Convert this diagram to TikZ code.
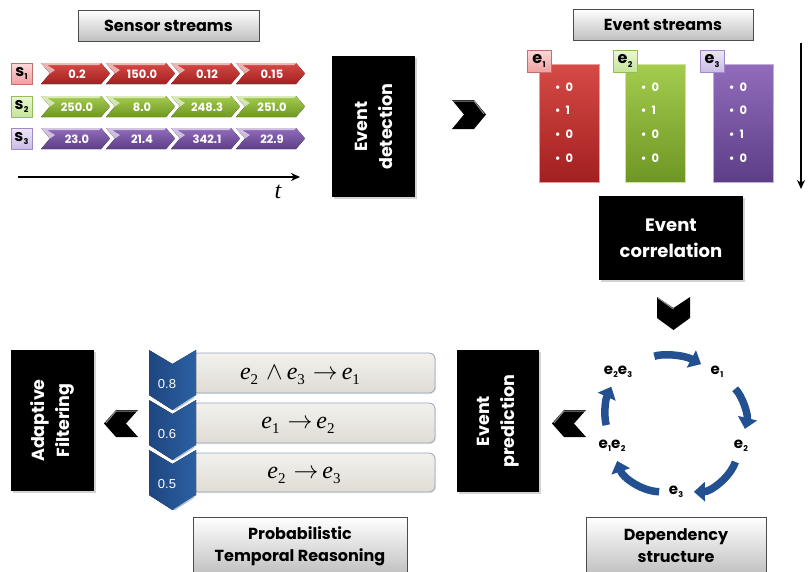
\documentclass[tikz,border=0pt]{standalone}
\usepackage{fontspec}
\setsansfont{Poppins}
\newfontfamily\serifit{Liberation Serif}
\newfontfamily\arialfont{Liberation Sans}
\usetikzlibrary{arrows.meta,shadows,calc}

% stream colours
\definecolor{redT}{RGB}{214,74,70}
\definecolor{redB}{RGB}{162,32,32}
\definecolor{grnT}{RGB}{164,204,78}
\definecolor{grnB}{RGB}{110,150,36}
\definecolor{purT}{RGB}{146,108,188}
\definecolor{purB}{RGB}{92,62,134}
% tag colours
\definecolor{redL}{RGB}{253,218,218}
\definecolor{redLB}{RGB}{240,160,160}
\definecolor{redE}{RGB}{196,110,110}
\definecolor{grnL}{RGB}{234,247,210}
\definecolor{grnLB}{RGB}{198,228,152}
\definecolor{grnE}{RGB}{148,188,90}
\definecolor{purL}{RGB}{238,230,248}
\definecolor{purLB}{RGB}{202,188,228}
\definecolor{purE}{RGB}{158,138,196}
% reasoning colours
\definecolor{cycblue}{RGB}{34,80,144}
\definecolor{chL}{RGB}{30,70,128}
\definecolor{chR}{RGB}{44,96,162}
\definecolor{ruleT}{RGB}{242,241,236}
\definecolor{ruleB}{RGB}{222,220,212}
\definecolor{ruleE}{RGB}{150,166,188}

% letter with a small subscript index
\newcommand\ix[3]{#1\kern0.3pt\raisebox{-0.35ex}{\fontsize{#3}{#3}\selectfont #2}}
% italic event symbol for the rules
\newcommand\rv[1]{\textit{e}\raisebox{-0.45ex}{\fontsize{15}{15}\selectfont #1}}

\begin{document}
\begin{tikzpicture}[x=1pt,y=-1pt,
  title/.style={draw=black!70, line width=0.8pt, top color=white, bottom color=black!25,
    drop shadow={opacity=0.3,shadow xshift=1.3pt,shadow yshift=-1.3pt},
    font=\sffamily\bfseries\fontsize{16}{22}\selectfont, align=center, inner sep=0pt},
  stage/.style={fill=black, text=white,
    drop shadow={opacity=0.35,shadow xshift=1.6pt,shadow yshift=-1.6pt},
    font=\sffamily\bfseries\fontsize{17.5}{25}\selectfont, align=center, inner sep=0pt},
  tag/.style={draw=#1E, line width=0.7pt, top color=#1L, bottom color=#1LB,
    minimum width=21, minimum height=21, inner sep=0pt,
    font=\sffamily\bfseries\fontsize{16}{16}\selectfont},
  bar/.style={top color=#1T, bottom color=#1B, draw=#1T!55!white, line width=0.9pt,
    minimum width=60, minimum height=118, inner sep=0pt,
    drop shadow={opacity=0.25,shadow xshift=1.2pt,shadow yshift=-1.2pt}},
  bullets/.style={text=white, align=left, inner sep=0pt,
    font=\sffamily\bfseries\fontsize{11.5}{23.7}\selectfont},
  cyclbl/.style={font=\sffamily\bfseries\fontsize{15}{15}\selectfont, inner sep=1.5pt},
  cyc/.style={draw=cycblue, line width=7.5pt, -{Triangle[width=19pt,length=11pt]}},
  axisarrow/.style={line width=1.6pt, -{Stealth[length=9pt,width=8pt]}},
  rulebox/.style={draw=ruleE, line width=0.8pt, top color=ruleT, bottom color=ruleB,
    rounded corners=6pt, inner sep=0pt,
    drop shadow={opacity=0.2,shadow xshift=1pt,shadow yshift=-1pt}},
  ruletext/.style={font=\serifit\fontsize{24}{24}\selectfont, inner sep=0pt},
  pics/strchev/.style n args={3}{code={
    \fill[top color=#1, bottom color=#2] (0,0) -- (60,0) -- (69,10.5) -- (60,21) -- (0,21) -- (9,10.5) -- cycle;
    \fill[white, opacity=0.6] (0,0) -- (9,10.5) -- (14,7) -- (6,2) -- (58,2) -- (60,0) -- cycle;
    \node[font=\sffamily\bfseries\fontsize{11.5}{11.5}\selectfont, text=white, inner sep=0pt] (-v) at (36,11) {#3};
  }},
  pics/chevR/.style={code={
    \fill[black] (0,0) -- (22,0) -- (34,14.5) -- (22,29) -- (0,29) -- (12,14.5) -- cycle;
    \draw[black!45, line width=1pt] (1,1) -- (22,1) -- (32,14);
  }},
  pics/chevL/.style={code={
    \fill[black] (34,0) -- (12,0) -- (0,13.5) -- (12,27) -- (34,27) -- (22,13.5) -- cycle;
    \draw[black!45, line width=1pt] (33,1) -- (12,1) -- (2,13);
  }},
  pics/chevD/.style={code={
    \fill[black] (0,0) -- (16.5,11) -- (33,0) -- (33,21) -- (16.5,33) -- (0,21) -- cycle;
    \draw[black!45, line width=1pt] (1,1) -- (16.5,12);
  }},
  pics/probchev/.style={code={
    \fill[left color=chL, right color=chR] (0,0) -- (23.5,14) -- (47,0) -- (47,45) -- (23.5,60) -- (0,45) -- cycle;
    \draw[chR!40!white, line width=1.4pt] (45,47) -- (25,60);
    \node[font=\arialfont\fontsize{13}{13}\selectfont, text=white, inner sep=0pt] (-p) at (18,34) {#1};
  }}
]
\useasboundingbox (0,0) rectangle (809,571);

%% ---------- sensor streams ----------
\node[title, minimum width=181, minimum height=31] (ss) at (168.5,25.5) {Sensor streams};

\node[tag=red] (s1) at (21.5,73.5) {\ix{s}{1}{8}};
\node[tag=grn] (s2) at (21.5,106.5) {\ix{s}{2}{8}};
\node[tag=pur] (s3) at (21.5,138.5) {\ix{s}{3}{8}};

\foreach \v [count=\i from 0] in {0.2,150.0,0.12,0.15}
  \pic (ra\i) at ({41+65*\i},63) {strchev={redT}{redB}{\v}};
\foreach \v [count=\i from 0] in {250.0,8.0,248.3,251.0}
  \pic (rb\i) at ({41+65*\i},96) {strchev={grnT}{grnB}{\v}};
\foreach \v [count=\i from 0] in {23.0,21.4,342.1,22.9}
  \pic (rc\i) at ({41+65*\i},128) {strchev={purT}{purB}{\v}};

\coordinate (t0) at (18,177);
\coordinate (t1) at (300,177);
\draw[axisarrow] (t0) -- (t1);
\node[font=\serifit\itshape\fontsize{24}{24}\selectfont, inner sep=0pt] (tl) at (278,192) {t};

%% ---------- event detection ----------
\node[stage, rotate=90, minimum width=141, minimum height=83] (det) at (373.5,126.5) {Event\\detection};
\pic at (452,100) {chevR};

%% ---------- event streams ----------
\node[title, minimum width=180, minimum height=31] (es) at (663,24.5) {Event streams};

\node[bar=red] (b1) at (569,123) {};
\node[bar=grn] (b2) at (655,123) {};
\node[bar=pur] (b3) at (743,123) {};
\node[bullets] (b1v) at (564,122.5) {\textbullet\ \ 0\\\textbullet\ \ 1\\\textbullet\ \ 0\\\textbullet\ \ 0};
\node[bullets] (b2v) at (650,122.5) {\textbullet\ \ 0\\\textbullet\ \ 1\\\textbullet\ \ 0\\\textbullet\ \ 0};
\node[bullets] (b3v) at (738,122.5) {\textbullet\ \ 0\\\textbullet\ \ 0\\\textbullet\ \ 1\\\textbullet\ \ 0};

\node[tag=red, minimum width=24, minimum height=22] (e1t) at (539,61) {\ix{e}{1}{8}};
\node[tag=grn, minimum width=24, minimum height=22] (e2t) at (625,61) {\ix{e}{2}{8}};
\node[tag=pur, minimum width=24, minimum height=22] (e3t) at (712,61) {\ix{e}{3}{8}};

\coordinate (v0) at (801,43);
\coordinate (v1) at (801,189);
\draw[axisarrow] (v0) -- (v1);

%% ---------- event correlation ----------
\node[stage, minimum width=144, minimum height=84, font=\sffamily\bfseries\fontsize{18}{26}\selectfont] (cor) at (671,238) {Event\\correlation};
\pic at (657,297) {chevD};

%% ---------- dependency structure ----------
\node[cyclbl] (c23) at (618,372) {\ix{e}{2}{8}\ix{e}{3}{8}};
\node[cyclbl] (c1) at (717,372) {\ix{e}{1}{8}};
\node[cyclbl] (c2) at (741,446) {\ix{e}{2}{8}};
\node[cyclbl] (c3) at (676,492) {\ix{e}{3}{8}};
\node[cyclbl] (c12) at (612,446) {\ix{e}{1}{8}\ix{e}{2}{8}};

\draw[cyc, shorten <=22pt, shorten >=9pt] (c23) to[bend left=25] (c1);
\draw[cyc, shorten <=14pt, shorten >=10pt] (c1) to[bend left=30] (c2);
\draw[cyc, shorten <=9pt, shorten >=9pt] (c2) to[bend left=35] (c3);
\draw[cyc, shorten <=8pt, shorten >=8pt] (c3) to[bend left=35] (c12);
\draw[cyc, shorten <=14pt, shorten >=8pt] (c12) to[bend left=20] (c23);

\node[title, minimum width=180, minimum height=58] (dep) at (676,546) {Dependency\\structure};

%% ---------- event prediction ----------
\node[stage, rotate=90, minimum width=142, minimum height=82] (pred) at (498,421) {Event\\prediction};
\pic at (552,410) {chevL};

%% ---------- probabilistic temporal reasoning ----------
\node[rulebox, minimum width=243, minimum height=40] (r1) at (313.5,373) {};
\node[rulebox, minimum width=243, minimum height=40] (r2) at (313.5,423) {};
\node[rulebox, minimum width=243, minimum height=39] (r3) at (313.5,472.5) {};
\node[ruletext] (r1t) at (300,375) {\rv{2}\,\,$\wedge$\,\rv{3}\,\,$\rightarrow$\,\rv{1}};
\node[ruletext] (r2t) at (298,425) {\rv{1}\,\,$\rightarrow$\,\rv{2}};
\node[ruletext] (r3t) at (304,475) {\rv{2}\,\,$\rightarrow$\,\rv{3}};

\pic (p1) at (149,350) {probchev=0.8};
\pic (p2) at (149,400) {probchev=0.6};
\pic (p3) at (149,450) {probchev=0.5};

\node[title, minimum width=214, minimum height=58] (ptr) at (300,546) {Probabilistic\\Temporal Reasoning};

%% ---------- adaptive filtering ----------
\pic at (104,410) {chevL};
\node[stage, rotate=90, minimum width=141, minimum height=83] (ada) at (52.5,420.5) {Adaptive\\Filtering};
\end{tikzpicture}
\end{document}
